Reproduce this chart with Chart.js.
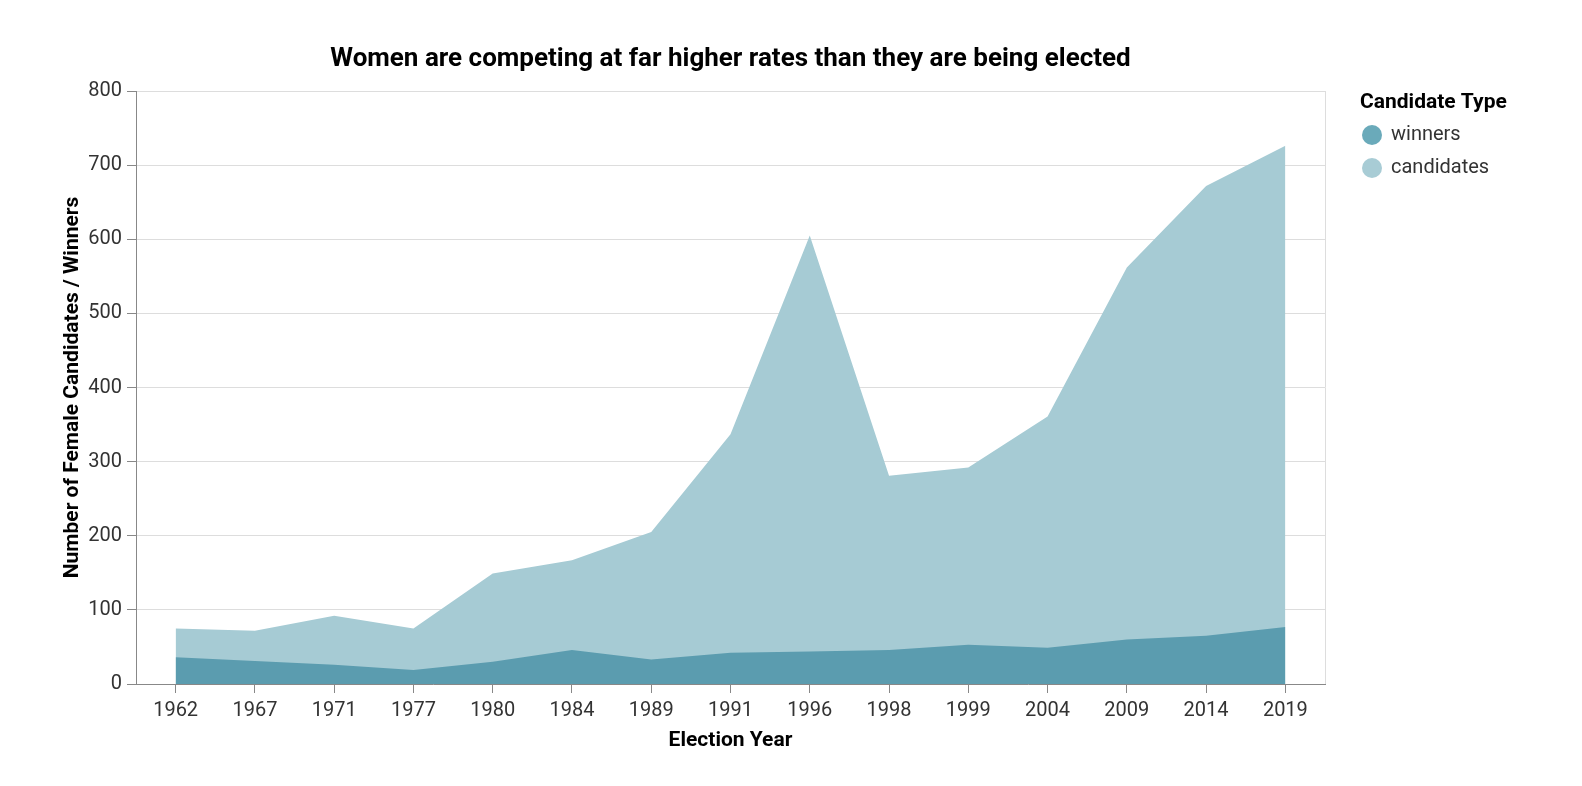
<!DOCTYPE html>
<html>
<head>
<meta charset="utf-8">
<script src="https://cdn.jsdelivr.net/npm/chart.js@4/dist/chart.umd.min.js"></script>
<style>
  html, body { margin: 0; padding: 0; background: #fff; }
  #wrap { width: 1582px; height: 786px; }
</style>
</head>
<body>
<div id="wrap"><canvas id="chart"></canvas></div>
<script>
// election years (ordinal axis)
var years = ["1962", "1967", "1971", "1977", "1980", "1984", "1989", "1991",
             "1996", "1998", "1999", "2004", "2009", "2014", "2019"];
// women who stood for election
var candidates = [75, 72, 92, 75, 149, 167, 205, 337, 605, 281, 292, 361, 562, 672, 726];
// women who won a seat
var winners = [36, 31, 26, 19, 30, 46, 33, 42, 44, 46, 53, 49, 60, 65, 77];
var yTicks = [0, 100, 200, 300, 400, 500, 600, 700, 800];

var FONT = "Roboto, 'Noto Sans', sans-serif";

// title, legend and the light frame on the right, vega style
var decor = {
	id: "decor",
	afterDraw: function(chart){
		var ctx = chart.ctx, a = chart.chartArea;
		ctx.save();
		// right frame line
		ctx.strokeStyle = "#dddddd";
		ctx.lineWidth = 1;
		ctx.beginPath();
		ctx.moveTo(Math.round(a.right) + 0.5, a.top);
		ctx.lineTo(Math.round(a.right) + 0.5, a.bottom);
		ctx.stroke();

		// chart title, centred over the plot
		ctx.fillStyle = "#000";
		ctx.font = "bold 26px " + FONT;
		ctx.textAlign = "center";
		ctx.textBaseline = "middle";
		ctx.fillText("Women are competing at far higher rates than they are being elected", (a.left + a.right) / 2, 59);

		// legend
		ctx.textAlign = "left";
		ctx.font = "bold 21px " + FONT;
		ctx.fillText("Candidate Type", 1360, 103);
		var items = [
			{ label: "winners", color: "#6aaaba", y: 135 },
			{ label: "candidates", color: "#a8ccd5", y: 168 }
		];
		ctx.font = "20px " + FONT;
		for (var i = 0; i < items.length; i++){
			ctx.fillStyle = items[i].color;
			ctx.beginPath();
			ctx.arc(1372, items[i].y, 10, 0, Math.PI * 2);
			ctx.fill();
			ctx.fillStyle = "#333";
			ctx.fillText(items[i].label, 1391, items[i].y);
		}
		ctx.restore();
	}
};

new Chart(document.getElementById("chart"), {
	type: "line",
	data: {
		labels: years,
		datasets: [
			{
				label: "winners",
				data: winners,
				fill: "origin",
				backgroundColor: "#5b9caf",
				borderWidth: 0,
				pointRadius: 0,
				tension: 0
			},
			{
				label: "candidates",
				data: candidates,
				fill: "origin",
				backgroundColor: "#a6cbd4",
				borderWidth: 0,
				pointRadius: 0,
				tension: 0
			}
		]
	},
	options: {
		responsive: true,
		maintainAspectRatio: false,
		animation: false,
		events: [],
		layout: { padding: { top: 91, right: 257, bottom: 0, left: 0 } },
		plugins: {
			legend: { display: false },
			title: { display: false },
			tooltip: { enabled: false }
		},
		scales: {
			x: {
				offset: true,
				afterFit: function(s){ s.height = 102; },
				grid: { drawOnChartArea: false, tickLength: 9, tickColor: "#888", offset: false },
				border: { color: "#888" },
				ticks: { color: "#333", font: { family: FONT, size: 20 }, padding: 6, maxRotation: 0, autoSkip: false },
				title: {
					display: true,
					text: "Election Year",
					color: "#000",
					font: { family: FONT, size: 21, weight: "bold" },
					padding: { top: 0, bottom: 33 }
				}
			},
			y: {
				min: yTicks[0],
				max: yTicks[yTicks.length - 1],
				afterFit: function(s){ s.width = 136; },
				afterBuildTicks: function(s){ s.ticks = yTicks.map(function(v){ return { value: v }; }); },
				grid: { color: "#dddddd", tickLength: 9, tickColor: "#888" },
				border: { color: "#888" },
				ticks: { color: "#333", font: { family: FONT, size: 20 }, padding: 5 },
				title: {
					display: true,
					text: "Number of Female Candidates / Winners",
					color: "#000",
					font: { family: FONT, size: 21, weight: "bold" },
					padding: { top: 60, bottom: 0 }
				}
			}
		}
	},
	plugins: [decor]
});
</script>
</body>
</html>
